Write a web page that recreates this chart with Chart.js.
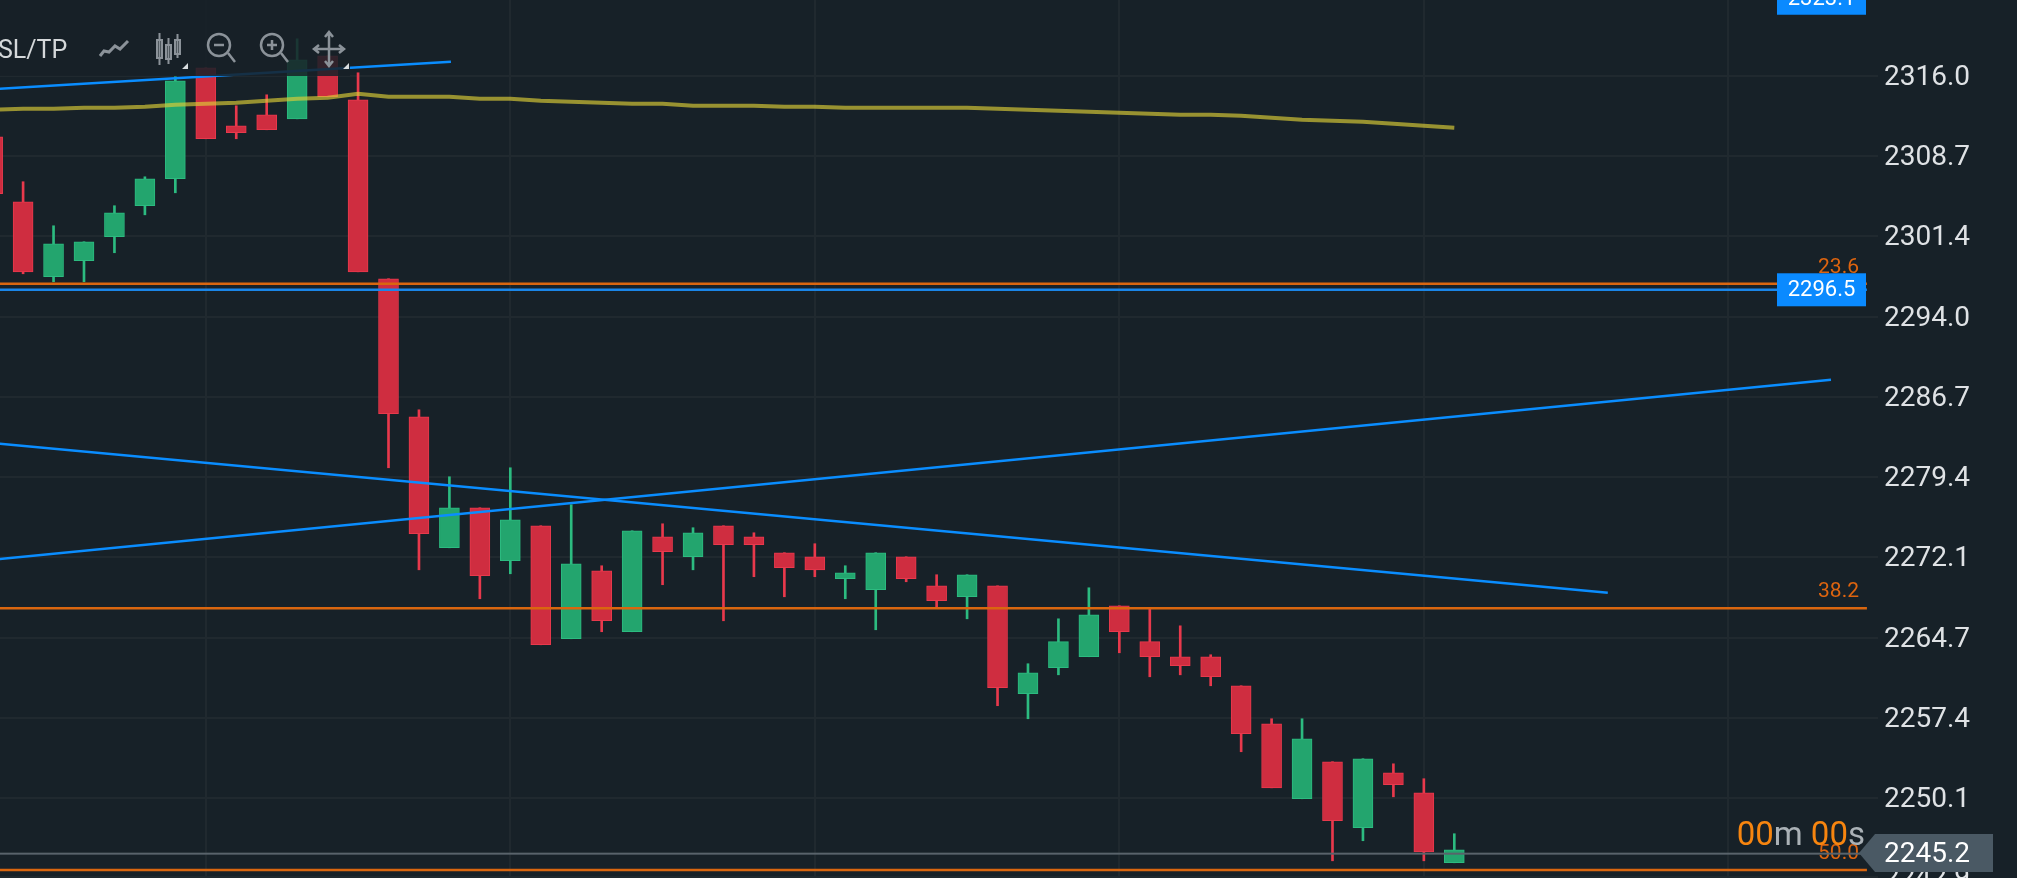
<!DOCTYPE html>
<html><head><meta charset="utf-8">
<style>
html,body{margin:0;padding:0;background:#172128;width:2017px;height:878px;overflow:hidden}
#c{position:absolute;left:0;top:0}
#bar{position:absolute;left:0;top:0;width:350px;height:76px;background:rgba(23,33,40,.86)}
#sl{position:absolute;left:-2px;top:35px;font:25px Roboto;color:#d5d8da}
#ico{position:absolute;left:0;top:0}
#timer{position:absolute;right:152px;top:816px;font:33px Roboto;color:#aab1b6;white-space:pre;line-height:36px}
#timer b{font-weight:400;color:#f7850f}
</style></head><body>
<canvas id="c" width="2017" height="878"></canvas>
<div id="bar"></div>
<div id="sl">SL/TP</div>
<svg id="ico" width="360" height="80" fill="none" stroke="#8b9299" stroke-width="2.5">
<path d="M100 56l4-5 5 1 6-6 5 3 8-8" stroke-width="3"/>
<path d="M157 40h5v18h-5zM166 45h5v14h-5zM175 40h5v14h-5zM159.500 33v32M168.500 38v26M177.500 34v24" stroke-width="2"/>
<circle cx="219" cy="45" r="11"/><path d="M228 53l7 9M214 45h10"/>
<circle cx="272" cy="45" r="11"/><path d="M281 53l7 9M267 45h10M272 40v10"/>
<path d="M329 33v32M315 49h28M325 37l4-5 4 5M325 61l4 5 4-5M319 45l-5 4 5 4M339 45l5 4-5 4"/>
<path d="M182 69l6-6v6zM343 69l6-6v6z" fill="#d8dcdf" stroke="none"/>
</svg>
<div id="timer"><b>00</b>m <b>00</b>s</div>
<script src="https://cdn.jsdelivr.net/npm/chart.js@4"></script>
<script>
const candleIndex=[...Array(49).keys()];
const opens=[2310.46,2304.53,2297.69,2299.15,2301.34,2304.17,2306.63,2316.76,2311.46,2312.47,2312.10,2317.85,2313.84,2297.51,2284.91,2272.96,2276.61,2271.78,2274.97,2264.66,2270.86,2265.30,2273.97,2272.14,2274.97,2273.97,2272.51,2272.14,2270.13,2269.13,2272.14,2269.49,2268.49,2269.49,2259.64,2262.01,2263.02,2267.67,2264.39,2263.02,2263.02,2260.37,2256.90,2250.06,2253.44,2247.42,2252.43,2250.61,2244.22];
const closes=[2305.26,2298.14,2300.70,2300.88,2303.53,2306.63,2315.57,2310.28,2310.83,2311.10,2317.49,2314.11,2298.14,2285.19,2274.24,2276.61,2270.41,2275.52,2264.11,2271.50,2266.30,2274.51,2272.60,2274.33,2273.24,2273.24,2271.14,2270.95,2270.68,2272.51,2270.13,2268.13,2270.50,2260.19,2261.56,2264.39,2266.85,2265.30,2263.02,2262.20,2261.19,2255.99,2251.06,2255.53,2248.05,2253.71,2251.34,2245.22,2245.41];
const highs=[2310.46,2306.36,2302.34,2300.88,2304.17,2306.81,2315.94,2316.76,2313.29,2314.29,2319.40,2317.85,2316.30,2297.51,2285.55,2279.44,2276.61,2280.26,2274.97,2276.89,2271.32,2274.51,2275.15,2274.79,2274.97,2274.33,2272.51,2273.33,2271.32,2272.51,2272.14,2270.50,2270.50,2269.49,2262.38,2266.48,2269.31,2267.67,2267.49,2265.84,2263.20,2260.37,2257.36,2257.36,2253.44,2253.71,2253.25,2251.89,2246.87];
const lows=[2305.26,2297.96,2297.23,2297.23,2299.88,2303.34,2305.35,2310.28,2310.28,2311.10,2312.10,2314.11,2298.14,2280.26,2270.95,2272.96,2268.31,2270.59,2264.11,2264.66,2265.30,2265.30,2269.59,2270.95,2266.30,2270.32,2268.49,2270.32,2268.31,2265.48,2269.86,2267.49,2266.48,2258.55,2257.36,2261.37,2263.02,2263.38,2261.19,2261.37,2260.37,2254.35,2251.06,2250.06,2244.40,2246.23,2250.24,2244.40,2244.22];
const movingAverage=[2312.92,2313.02,2313.02,2313.11,2313.11,2313.20,2313.38,2313.47,2313.56,2313.75,2313.93,2314.02,2314.38,2314.11,2314.11,2314.11,2313.93,2313.93,2313.75,2313.65,2313.56,2313.47,2313.47,2313.29,2313.29,2313.29,2313.20,2313.20,2313.11,2313.11,2313.11,2313.11,2313.11,2313.02,2312.92,2312.83,2312.74,2312.65,2312.56,2312.47,2312.47,2312.38,2312.19,2312.01,2311.92,2311.83,2311.65,2311.46,2311.28];
const yTicks=[2242.9,2250.1,2257.4,2264.7,2272.1,2279.4,2286.7,2294.0,2301.4,2308.7,2316.0];
const xGridIndex=[7,17,27,37,47,57];
const trendUpper=[[0.0,2314.80],[15.05,2317.30]];
const trendFalling=[[0.0,2282.52],[53.04,2268.86]];
const trendRising=[[0.0,2271.88],[60.37,2288.29]];
const fibLevels=[["23.6",2297.05],["38.2",2267.44],["50.0",2243.55]];
const priceLine=2296.5, topPrice=2323.1, lastPrice=2245.05, lastLabel="2245.2";
const xMin=0.2417,xMax=61.914,lineEnd=61.55,yMin=2242.83,yMax=2322.94;

const UP='#23a56e',UPB='#2cbb80',DN='#cf2d40',DNB='#e8394c';
const isUp=i=>closes[i]>opens[i];
const hline=(v,color,w,order)=>({type:'line',data:[{x:xMin,y:v},{x:lineEnd,y:v}],borderColor:color,borderWidth:w,pointRadius:0,order});
const seg=(p,color,w,order)=>({type:'line',data:p.map(a=>({x:a[0],y:a[1]})),borderColor:color,borderWidth:w,pointRadius:0,order});

const overlay={id:'overlay',afterDatasetsDraw(ch){
  const c=ch.ctx,y=ch.scales.y;
  c.save();
  c.textBaseline='alphabetic';c.textAlign='right';c.font='21px Roboto';c.fillStyle='#dd640f';
  fibLevels.forEach(f=>c.fillText(f[0],1859,y.getPixelForValue(f[1])-11));
  const py=y.getPixelForValue(lastPrice);
  c.fillStyle='#59636b';c.fillRect(0,py-1,1862,2);
  c.textAlign='center';c.textBaseline='middle';
  [priceLine,topPrice].forEach(v=>{
    const p=y.getPixelForValue(v);
    c.fillStyle='#0a8aff';c.fillRect(1777,p-16.5,89,33);
    c.fillStyle='#fff';c.font='22px Roboto';c.fillText(v.toFixed(1),1821.5,p+1);
  });
  c.fillStyle='#4a5964';c.beginPath();c.moveTo(1859,853);c.lineTo(1875,834);c.lineTo(1993,834);c.lineTo(1993,872);c.lineTo(1875,872);c.closePath();c.fill();
  c.fillStyle='#fff';c.font='28px Roboto';c.textAlign='left';c.fillText(lastLabel,1884,855);
  c.restore();
}};

new Chart(document.getElementById('c'),{
  type:'bar',
  data:{datasets:[
    hline(priceLine,'#1a86e8',2.5,1),
    hline(fibLevels[0][1],'#d9660f',2.5,1),
    hline(fibLevels[1][1],'#d9660f',2.5,1),
    hline(fibLevels[2][1],'#d9660f',2.5,1),
    seg(trendUpper,'#0a8dff',2.5,1),
    seg(trendFalling,'#0a8dff',2.5,1),
    seg(trendRising,'#0a8dff',2.5,1),
    {type:'line',data:candleIndex.map(i=>({x:i,y:movingAverage[i]})),borderColor:'rgba(220,205,55,.66)',borderWidth:4,pointRadius:0,order:2},
    {type:'bar',data:candleIndex.map(i=>({x:i,y:[Math.min(opens[i],closes[i]),Math.max(opens[i],closes[i])]})),
      backgroundColor:candleIndex.map(i=>isUp(i)?UP:DN),borderColor:candleIndex.map(i=>isUp(i)?UPB:DNB),borderWidth:1,borderSkipped:false,barThickness:20,grouped:false,order:3},
    {type:'bar',data:candleIndex.map(i=>({x:i,y:[lows[i],highs[i]]})),
      backgroundColor:candleIndex.map(i=>isUp(i)?UPB:DNB),borderWidth:0,barThickness:2,grouped:false,order:4}
  ]},
  options:{responsive:false,animation:false,devicePixelRatio:1,
    layout:{padding:0},
    plugins:{legend:{display:false},tooltip:{enabled:false}},
    scales:{
      x:{type:'linear',min:xMin,max:xMax,offset:false,
        grid:{color:'#20292f',lineWidth:2,offset:false,drawTicks:false},border:{display:false},
        ticks:{display:false},
        afterBuildTicks:s=>{s.ticks=xGridIndex.map(v=>({value:v}))},
        afterFit:s=>{s.height=0;s.paddingLeft=s.paddingRight=0}},
      y:{type:'linear',position:'right',min:yMin,max:yMax,
        grid:{color:'#20292f',lineWidth:2,drawTicks:false},border:{display:false},
        ticks:{color:'#dfe2e5',font:{family:'Roboto',size:28},padding:6,labelOffset:1.5,autoSkip:false,callback:v=>v.toFixed(1)},
        afterBuildTicks:s=>{s.ticks=yTicks.map(v=>({value:v}))},
        afterFit:s=>{s.width=139;s.paddingTop=s.paddingBottom=0}}
    }
  },
  plugins:[overlay]
});
</script>
</body></html>
